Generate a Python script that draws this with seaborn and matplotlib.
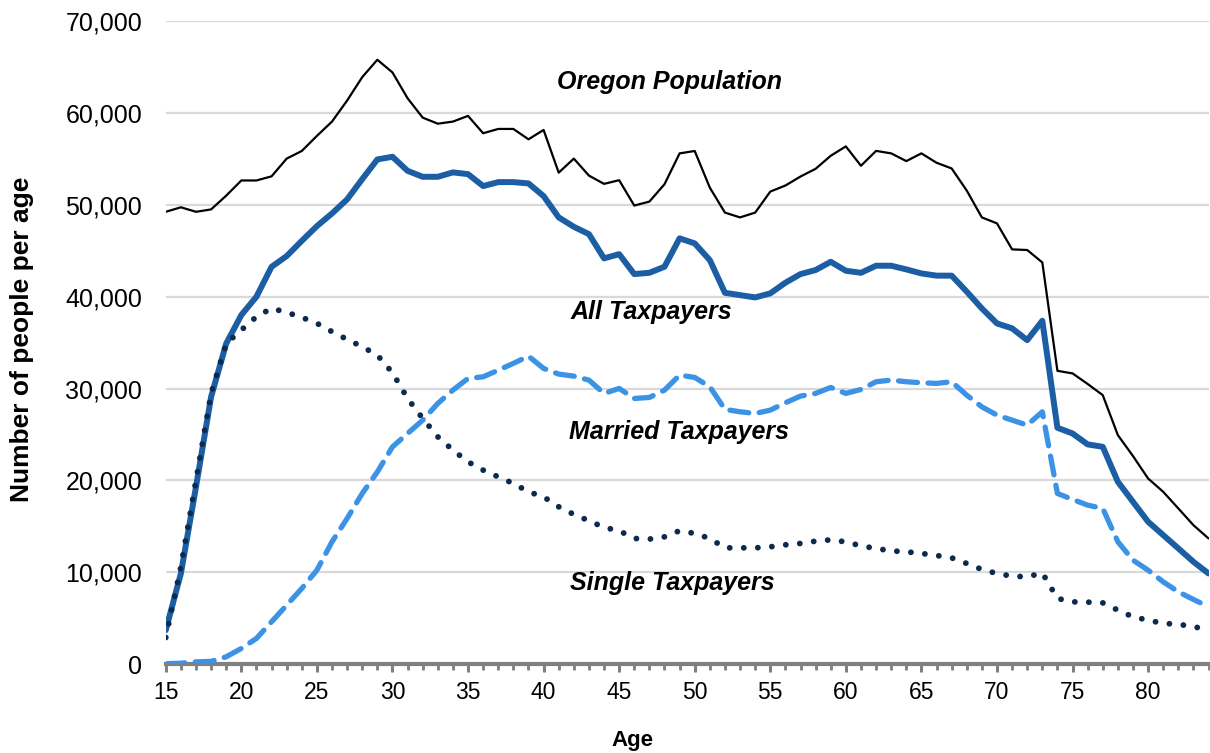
import numpy as np
import pandas as pd
import seaborn as sns
import matplotlib
matplotlib.use("Agg")
import matplotlib.pyplot as plt
from matplotlib.ticker import FuncFormatter, MultipleLocator

ages = list(range(15, 85))

oregon_population = [
    49240, 49730, 49240, 49500, 51000, 52650, 52650, 53100, 55030, 55860,
    57500, 59060, 61350, 63900, 65790, 64410, 61600, 59490, 58830, 59060,
    59680, 57790, 58260, 58260, 57130, 58150, 53500, 55030, 53180, 52280,
    52680, 49920, 50350, 52240, 55600, 55860, 51870, 49150, 48630, 49150,
    51440, 52100, 53080, 53920, 55340, 56360, 54250, 55870, 55600, 54760,
    55600, 54580, 53960, 51550, 48630, 47980, 45150, 45080, 43730, 31930,
    31650, 30500, 29280, 24930, 22650, 20210, 18760, 16950, 15130, 13680,
]

all_taxpayers = [
    3700, 9870, 19300, 29100, 34900, 38000, 40000, 43250, 44420, 46080,
    47680, 49060, 50590, 52800, 54940, 55230, 53700, 53050, 53050, 53530,
    53340, 52040, 52470, 52470, 52330, 50950, 48630, 47610, 46810, 44170,
    44630, 42460, 42600, 43260, 46350, 45800, 43980, 40420, 40170, 39920,
    40360, 41520, 42460, 42900, 43800, 42820, 42600, 43370, 43370, 42970,
    42530, 42290, 42290, 40550, 38720, 37090, 36550, 35270, 37380, 25730,
    25110, 23920, 23660, 19850, 17670, 15500, 14050, 12600, 11140, 9870,
]

married_taxpayers = [
    50, 100, 250, 300, 800, 1710, 2800, 4610, 6420, 8240,
    10230, 13320, 15860, 18580, 20930, 23650, 25110, 26560, 28380, 29830,
    31100, 31280, 32000, 32740, 33530, 32190, 31570, 31350, 30920, 29470,
    30010, 28920, 29030, 29830, 31460, 31210, 30190, 27730, 27470, 27290,
    27650, 28450, 29180, 29470, 30120, 29470, 29900, 30740, 30920, 30740,
    30630, 30560, 30740, 29280, 28010, 27110, 26560, 26020, 27470, 18580,
    17930, 17310, 16950, 13320, 11320, 10230, 8960, 7870, 7040, 6240,
]

single_taxpayers = [
    2900, 10600, 20000, 29470, 34900, 36370, 37820, 38730, 38290, 37750,
    37100, 36190, 35350, 34550, 33640, 31720, 28920, 26750, 24750, 23300,
    22020, 21120, 20390, 19670, 18760, 18210, 17130, 16300, 15610, 14880,
    14520, 13680, 13610, 13860, 14520, 14230, 13680, 12660, 12660, 12660,
    12770, 12990, 13140, 13390, 13530, 13310, 12880, 12590, 12330, 12230,
    12050, 11830, 11570, 10960, 10310, 9870, 9580, 9500, 9940, 7150,
    6780, 6750, 6670, 5880, 5150, 4790, 4430, 4350, 4060, 3780,
]

labels = ["Oregon Population", "All Taxpayers", "Married Taxpayers", "Single Taxpayers"]
label_pos_age = [48.3, 47.1, 48.95, 48.55]
label_pos_val = [63360, 38320, 25260, 8820]

y_ticks = list(range(0, 70001, 10000))
x_ticks = list(range(15, 81, 5))

sns.set_theme(style="white")
plt.rcParams["font.family"] = ["Liberation Sans", "DejaVu Sans"]
plt.rcParams["text.color"] = "black"
plt.rcParams["axes.labelcolor"] = "black"

fig = plt.figure(figsize=(12.1, 7.53), dpi=100)
ax = fig.add_axes([0.137, 0.118, 0.8618, 0.854])

df = pd.DataFrame({
    "Age": ages,
    "Oregon Population": oregon_population,
    "All Taxpayers": all_taxpayers,
    "Married Taxpayers": married_taxpayers,
    "Single Taxpayers": single_taxpayers,
})

sns.lineplot(data=df, x="Age", y="Oregon Population", ax=ax, color="black",
             linewidth=1.6, zorder=3)
sns.lineplot(data=df, x="Age", y="All Taxpayers", ax=ax, color="#1c5ea3",
             linewidth=4.3, zorder=4)
sns.lineplot(data=df, x="Age", y="Married Taxpayers", ax=ax, color="#3c93e6",
             linewidth=3.8, linestyle=(0, (3.6, 2.0)), dash_capstyle="round", zorder=3)
sns.lineplot(data=df, x="Age", y="Single Taxpayers", ax=ax, color="#0c2a4e",
             linewidth=4.2, linestyle=(0, (0.01, 2.4)), dash_capstyle="round", zorder=5)

ax.set_xlim(15, 84)
ax.set_ylim(0, 70000)
ax.set_yticks(y_ticks)
ax.set_xticks(x_ticks)
ax.xaxis.set_minor_locator(MultipleLocator(1))
ax.yaxis.set_major_formatter(FuncFormatter(lambda v, p: f"{int(v):,}"))

ax.grid(axis="y", color="#d9d9d9", linewidth=1.6, zorder=0)
ax.grid(axis="x", visible=False)
ax.set_axisbelow(True)

for s in ["top", "right", "left"]:
    ax.spines[s].set_visible(False)
ax.spines["bottom"].set_color("#808080")
ax.spines["bottom"].set_linewidth(3.0)
ax.spines["bottom"].set_zorder(2)

ax.tick_params(axis="y", length=0, labelsize=18, pad=17, labelcolor="black")
ax.tick_params(axis="x", which="major", direction="out", length=6, width=2.2,
               color="#808080", labelsize=16.5, pad=6, labelcolor="black", bottom=True)
ax.tick_params(axis="x", which="minor", direction="out", length=4.5, width=2.0,
               color="#808080", bottom=True)

ax.set_xlabel("Age", fontsize=16, fontweight="bold", color="black")
ax.xaxis.set_label_coords(0.448, -0.118)
ax.xaxis.label.set_va("center")
ax.set_ylabel("Number of people per age", fontsize=19, fontweight="bold", color="black")
ax.yaxis.set_label_coords(-0.138, 0.505)
ax.yaxis.label.set_va("center")

for t, xa, yv in zip(labels, label_pos_age, label_pos_val):
    ax.text(xa, yv, t, fontsize=18, fontweight="bold", fontstyle="italic",
            ha="center", va="center", color="black", zorder=6)

fig.savefig("out.png", dpi=100)
